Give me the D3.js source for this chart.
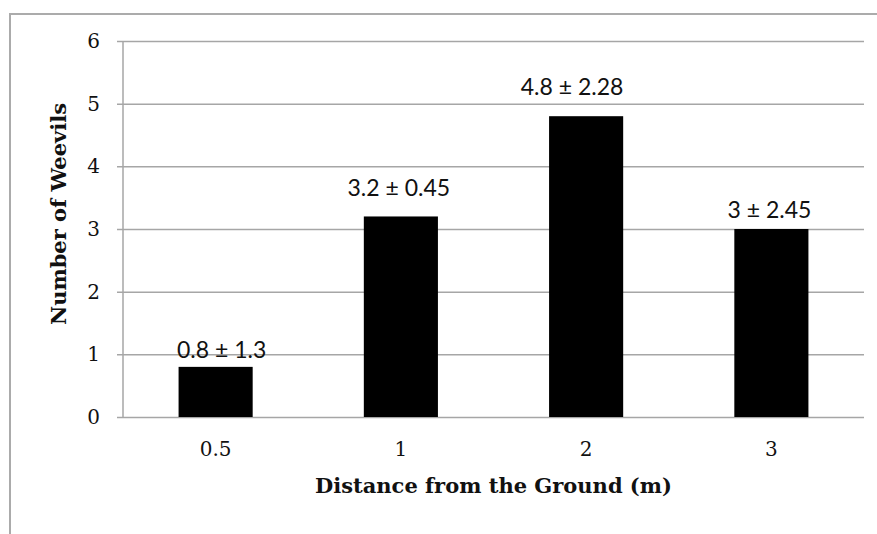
<!DOCTYPE html>
<html>
<head>
<meta charset="utf-8">
<script src="https://cdn.jsdelivr.net/npm/d3@7"></script>
<style>
  body { margin: 0; background: #fff; }
  .tick text { font-family: "DejaVu Serif", serif; }
</style>
</head>
<body>
<div id="chart"></div>
<script>
/* ===== Data ===== */
const distances = ["0.5", "1", "2", "3"];
const weevils = [0.8, 3.2, 4.8, 3];
const errors = ["1.3", "0.45", "2.28", "2.45"];
const yTicks = [0, 1, 2, 3, 4, 5, 6];

// labels were nudged by hand in the original: lift above bar, sideways shift
const labelLift = [9, 20, 21, 11];
const labelShift = [6, -2, -14, -2];

/* ===== Layout ===== */
const W = 877, H = 534;
const margin = { top: 41, right: 13, bottom: 117, left: 123 };
const width = W - margin.left - margin.right;
const height = H - margin.top - margin.bottom;

const svg = d3.select("#chart").append("svg")
  .attr("width", W)
  .attr("height", H);

// outer frame (only top and left visible)
svg.append("path")
  .attr("d", `M10,${H} V14 H${W}`)
  .attr("fill", "none")
  .attr("stroke", "#ababab")
  .attr("stroke-width", 2);

const g = svg.append("g")
  .attr("transform", `translate(${margin.left},${margin.top})`);

/* ===== Scales ===== */
const x = d3.scaleBand()
  .domain(distances)
  .range([0, width])
  .paddingInner(0.6)
  .paddingOuter(0.3);

const y = d3.scaleLinear()
  .domain([0, 6])
  .range([height, 0]);

/* ===== Grid + y axis ===== */
const yAxis = g.append("g")
  .call(d3.axisLeft(y).tickValues(yTicks).tickFormat(d3.format("d")));

yAxis.select(".domain").remove();
yAxis.selectAll(".tick line")
  .attr("x1", -6)
  .attr("x2", width)
  .attr("stroke", "#a6a6a6")
  .attr("stroke-width", 1.5);
yAxis.selectAll(".tick text")
  .attr("x", -23)
  .attr("font-size", 20)
  .attr("fill", "#111");

g.append("line")
  .attr("x1", 0).attr("x2", 0)
  .attr("y1", 0).attr("y2", height)
  .attr("stroke", "#a6a6a6")
  .attr("stroke-width", 1.5);

/* ===== x axis ===== */
const xAxis = g.append("g")
  .attr("transform", `translate(0,${height})`)
  .call(d3.axisBottom(x).tickSize(0).tickPadding(25));
xAxis.select(".domain").remove();
xAxis.selectAll(".tick text")
  .attr("font-size", 20)
  .attr("fill", "#111");

/* ===== Bars ===== */
g.selectAll(".bar")
  .data(weevils)
  .enter()
  .append("rect")
  .attr("class", "bar")
  .attr("x", (d, i) => x(distances[i]))
  .attr("width", x.bandwidth())
  .attr("y", d => y(d))
  .attr("height", d => height - y(d))
  .attr("fill", "#000");

/* ===== Value labels ===== */
g.selectAll(".lbl")
  .data(weevils)
  .enter()
  .append("text")
  .attr("class", "lbl")
  .attr("x", (d, i) => x(distances[i]) + x.bandwidth() / 2 + labelShift[i])
  .attr("y", (d, i) => y(d) - labelLift[i])
  .attr("text-anchor", "middle")
  .attr("font-family", "Lato, 'Open Sans', sans-serif")
  .attr("font-size", 23)
  .attr("fill", "#111")
  .text((d, i) => `${d} ± ${errors[i]}`);

/* ===== Axis titles ===== */
svg.append("text")
  .attr("x", margin.left + width / 2)
  .attr("y", 493)
  .attr("text-anchor", "middle")
  .attr("font-family", "'DejaVu Serif', serif")
  .attr("font-weight", "bold")
  .attr("font-size", 21)
  .attr("fill", "#111")
  .text("Distance from the Ground (m)");

svg.append("text")
  .attr("transform", `translate(66,${margin.top + height / 2 - 15}) rotate(-90)`)
  .attr("text-anchor", "middle")
  .attr("font-family", "'DejaVu Serif', serif")
  .attr("font-weight", "bold")
  .attr("font-size", 21)
  .attr("fill", "#111")
  .text("Number of Weevils");
</script>
</body>
</html>
